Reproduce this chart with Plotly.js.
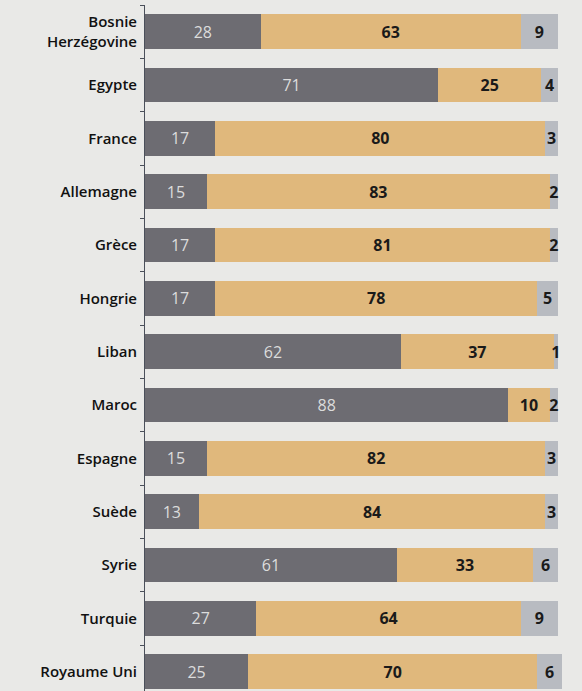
<!DOCTYPE html>
<html>
<head>
<meta charset="utf-8">
<script src="https://cdn.plot.ly/plotly-3.0.1.min.js"></script>
<style>html,body{margin:0;padding:0;background:#e9e9e7;}</style>
</head>
<body>
<div id="chart" style="width:582px;height:691px;"></div>
<script>
const countries = ["Bosnie<br>Herzégovine","Egypte","France","Allemagne","Grèce","Hongrie","Liban","Maroc","Espagne","Suède","Syrie","Turquie","Royaume Uni"];
const darkValues = [28,71,17,15,17,17,62,88,15,13,61,27,25];
const tanValues  = [63,25,80,83,81,78,37,10,82,84,33,64,70];
const lightValues= [9,4,3,2,2,5,1,2,3,3,6,9,6];

const common = {
  type: 'bar', orientation: 'h', y: countries,
  textposition: 'inside', insidetextanchor: 'middle',
  constraintext: 'none', cliponaxis: false,
  texttemplate: '%{x}', hoverinfo: 'none'
};
const data = [
  Object.assign({}, common, {x: darkValues, marker:{color:'#6d6c72'},
    textfont:{family:'Open Sans', size:16, color:'#dcdcdc', weight:400}}),
  Object.assign({}, common, {x: tanValues, marker:{color:'#e0b87c'},
    textfont:{family:'Open Sans', size:16, color:'#1a1a1a', weight:700}}),
  Object.assign({}, common, {x: lightValues, marker:{color:'#b8bbc1'},
    textfont:{family:'Open Sans', size:16, color:'#1a1a1a', weight:700}})
];
const layout = {
  width: 582, height: 691,
  barmode: 'stack', bargap: 0.35, showlegend: false,
  paper_bgcolor: '#e9e9e7', plot_bgcolor: 'rgba(0,0,0,0)',
  margin: {l: 145, r: 20, t: 5, b: 0},
  xaxis: {range: [0, 101], visible: false, fixedrange: true},
  yaxis: {
    type: 'category', range: [12.36, -0.5],
    showline: true, linecolor: '#4a4f5a', linewidth: 1,
    ticks: 'outside', ticklen: 4, tickcolor: '#4a4f5a', tickwidth: 1,
    tickson: 'boundaries', showgrid: false, zeroline: false,
    ticklabelstandoff: 4,
    tickfont: {family: 'Open Sans', size: 15, color: '#111', weight: 600}
  }
};
Plotly.newPlot('chart', data, layout, {displayModeBar: false, staticPlot: true});
</script>
</body>
</html>
